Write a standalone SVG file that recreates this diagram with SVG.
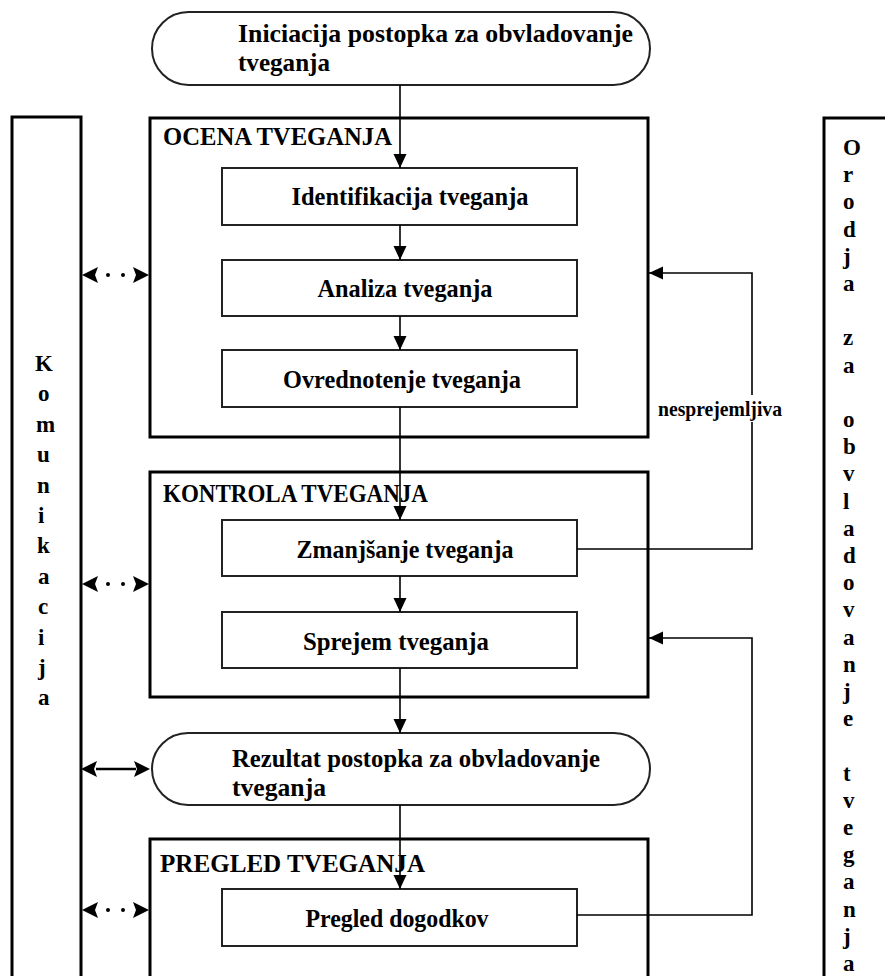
<svg xmlns="http://www.w3.org/2000/svg" width="885" height="976" viewBox="0 0 885 976">
<style>
text{font-family:"Liberation Serif","Times New Roman",serif;font-weight:bold;fill:#000;}
.t{font-size:26px;}
.c{text-anchor:middle;}
.v{font-size:23px;}
.outer{fill:none;stroke:#000;stroke-width:3;}
.inner{fill:#fff;stroke:#222;stroke-width:2;}
.pill{fill:#fff;stroke:#222;stroke-width:2;}
.ln{fill:none;stroke:#000;stroke-width:1.6;}
.dl{fill:none;stroke:#000;stroke-width:2.5;}
</style>
<defs>
<marker id="ah" markerWidth="14" markerHeight="14" refX="14" refY="7" orient="auto" markerUnits="userSpaceOnUse">
<path d="M0,0.5 L14,7 L0,13.5 Z" fill="#000"/>
</marker>
</defs>
<rect width="885" height="976" fill="#fff"/>

<g id="komunikacija">
<rect class="outer" x="12" y="117" width="69" height="880"/>
<text class="v">
<tspan x="35" y="371">K</tspan><tspan x="38" y="401">o</tspan><tspan x="36" y="432">m</tspan><tspan x="37" y="462">u</tspan><tspan x="37" y="493">n</tspan><tspan x="38" y="523">i</tspan><tspan x="37" y="553">k</tspan><tspan x="38" y="584">a</tspan><tspan x="38" y="614">c</tspan><tspan x="38" y="645">i</tspan><tspan x="38" y="675">j</tspan><tspan x="38" y="705">a</tspan>
</text>
</g>

<g id="orodja">
<rect class="outer" x="824" y="118" width="80" height="880"/>
<text class="v">
<tspan x="843" y="155">O</tspan><tspan x="843" y="182">r</tspan><tspan x="843" y="209">o</tspan><tspan x="843" y="237">d</tspan><tspan x="843" y="264">j</tspan><tspan x="843" y="291">a</tspan><tspan x="843" y="345">z</tspan><tspan x="843" y="373">a</tspan><tspan x="843" y="427">o</tspan><tspan x="843" y="454">b</tspan><tspan x="843" y="481">v</tspan><tspan x="843" y="509">l</tspan><tspan x="843" y="536">a</tspan><tspan x="843" y="563">d</tspan><tspan x="843" y="590">o</tspan><tspan x="843" y="617">v</tspan><tspan x="843" y="645">a</tspan><tspan x="843" y="672">n</tspan><tspan x="843" y="699">j</tspan><tspan x="843" y="726">e</tspan><tspan x="843" y="781">t</tspan><tspan x="843" y="808">v</tspan><tspan x="843" y="835">e</tspan><tspan x="843" y="862">g</tspan><tspan x="843" y="889">a</tspan><tspan x="843" y="917">n</tspan><tspan x="843" y="944">j</tspan><tspan x="843" y="971">a</tspan>
</text>
</g>

<g id="iniciacija">
<rect class="pill" x="152" y="12" width="498" height="73" rx="36.5"/>
<text class="t" x="238" y="42" textLength="395" lengthAdjust="spacingAndGlyphs">Iniciacija postopka za obvladovanje</text>
<text class="t" x="238" y="71" textLength="92" lengthAdjust="spacingAndGlyphs">tveganja</text>
</g>

<g id="ocena">
<rect class="outer" x="150" y="118" width="498" height="319"/>
<text class="t" x="163" y="145" textLength="229" lengthAdjust="spacingAndGlyphs">OCENA TVEGANJA</text>
</g>

<g id="identifikacija">
<rect class="inner" x="222" y="168" width="355" height="57"/>
<text class="t c" x="410" y="205" textLength="237" lengthAdjust="spacingAndGlyphs">Identifikacija tveganja</text>
</g>

<g id="analiza">
<rect class="inner" x="222" y="260" width="355" height="56"/>
<text class="t c" x="405" y="297" textLength="175" lengthAdjust="spacingAndGlyphs">Analiza tveganja</text>
</g>

<g id="ovrednotenje">
<rect class="inner" x="222" y="350" width="355" height="57"/>
<text class="t c" x="402" y="388" textLength="238" lengthAdjust="spacingAndGlyphs">Ovrednotenje tveganja</text>
</g>

<g id="kontrola">
<rect class="outer" x="150" y="472" width="498" height="225"/>
<text class="t" x="163" y="502" textLength="265" lengthAdjust="spacingAndGlyphs">KONTROLA TVEGANJA</text>
</g>

<g id="zmanjsanje">
<rect class="inner" x="222" y="520" width="355" height="56"/>
<text class="t c" x="405" y="558" textLength="217" lengthAdjust="spacingAndGlyphs">Zmanjšanje tveganja</text>
</g>

<g id="sprejem">
<rect class="inner" x="222" y="612" width="355" height="56"/>
<text class="t c" x="396" y="650" textLength="186" lengthAdjust="spacingAndGlyphs">Sprejem tveganja</text>
</g>

<g id="rezultat">
<rect class="pill" x="152" y="733" width="498" height="72" rx="36"/>
<text class="t" x="232" y="767" textLength="368" lengthAdjust="spacingAndGlyphs">Rezultat postopka za obvladovanje</text>
<text class="t" x="232" y="796" textLength="94" lengthAdjust="spacingAndGlyphs">tveganja</text>
</g>

<g id="pregled">
<rect class="outer" x="150" y="839" width="498" height="160"/>
<text class="t" x="160" y="872" textLength="265" lengthAdjust="spacingAndGlyphs">PREGLED TVEGANJA</text>
</g>

<g id="dogodki">
<rect class="inner" x="222" y="889" width="355" height="57"/>
<text class="t c" x="397" y="927" textLength="183" lengthAdjust="spacingAndGlyphs">Pregled dogodkov</text>
</g>

<g id="connectors">
<path class="ln" d="M400,85 V168" marker-end="url(#ah)"/>
<path class="ln" d="M400,225 V260" marker-end="url(#ah)"/>
<path class="ln" d="M400,316 V350" marker-end="url(#ah)"/>
<path class="ln" d="M400,407 V520" marker-end="url(#ah)"/>
<path class="ln" d="M400,576 V612" marker-end="url(#ah)"/>
<path class="ln" d="M400,668 V733" marker-end="url(#ah)"/>
<path class="ln" d="M400,805 V889" marker-end="url(#ah)"/>
<path class="ln" d="M577,549 H752 V273 H649" marker-end="url(#ah)"/>
<path class="ln" d="M577,915 H752 V638 H649" marker-end="url(#ah)"/>
<rect x="656" y="395" width="128" height="27" fill="#fff"/>
<text x="720" y="416" style="font-size:21px;text-anchor:middle" textLength="124" lengthAdjust="spacingAndGlyphs">nesprejemljiva</text>
<path class="dl" d="M96,769 H136"/>
<polygon points="81,769 97,761 94,769 97,777" fill="#000"/>
<polygon points="150,769 134,761 137,769 134,777" fill="#000"/>
<g id="dots1">
<polygon points="82,275 98,267 95,275 98,283" fill="#000"/>
<circle cx="108" cy="275" r="2" fill="#000"/>
<circle cx="123" cy="275" r="2" fill="#000"/>
<polygon points="149,275 133,267 136,275 133,283" fill="#000"/>
</g>
<g id="dots2">
<polygon points="82,584 98,576 95,584 98,592" fill="#000"/>
<circle cx="108" cy="584" r="2" fill="#000"/>
<circle cx="123" cy="584" r="2" fill="#000"/>
<polygon points="149,584 133,576 136,584 133,592" fill="#000"/>
</g>
<g id="dots3">
<polygon points="82,910 98,902 95,910 98,918" fill="#000"/>
<circle cx="108" cy="910" r="2" fill="#000"/>
<circle cx="123" cy="910" r="2" fill="#000"/>
<polygon points="149,910 133,902 136,910 133,918" fill="#000"/>
</g>
</g>
</svg>
